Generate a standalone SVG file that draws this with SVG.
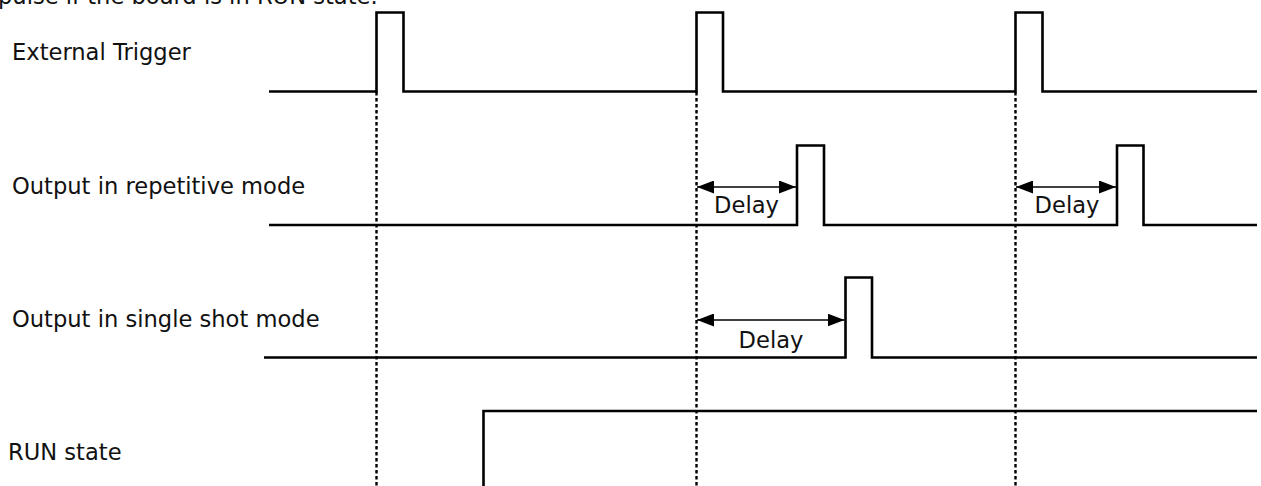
<svg xmlns="http://www.w3.org/2000/svg" width="1261" height="486" viewBox="0 0 1261 486">
<style>
text{font-family:"DejaVu Sans","Verdana",sans-serif;font-size:22.6px;fill:#111}
.sig{fill:none;stroke:#000;stroke-width:2.6;stroke-linejoin:miter}
.dot{fill:none;stroke:#000;stroke-width:2.4;stroke-dasharray:3.5 2.5}
.arr{stroke:#000;stroke-width:1.5;marker-start:url(#ah);marker-end:url(#ah)}
</style>
<defs>
<marker id="ah" viewBox="0 0 17 13" refX="17" refY="6.5" markerWidth="17" markerHeight="13" markerUnits="userSpaceOnUse" orient="auto-start-reverse">
<path d="M0,0 L17,6.5 L0,13 Z" fill="#000"/>
</marker>
</defs>
<text x="-2" y="4">pulse if the board is in RUN state.</text>
<g id="ext-trigger">
<text x="12" y="60">External Trigger</text>
<path class="sig" d="M269,91.5 H376.5 V12.5 H403.5 V91.5 H696.5 V12.5 H723 V91.5 H1015.5 V12.5 H1042.5 V91.5 H1257"/>
</g>
<g id="repetitive">
<text x="12" y="194">Output in repetitive mode</text>
<path class="sig" d="M269,225 H797 V145.5 H824 V225 H1117 V145.5 H1143.5 V225 H1257"/>
<text x="746.5" y="213" text-anchor="middle">Delay</text>
<text x="1067" y="213" text-anchor="middle">Delay</text>
</g>
<g id="single-shot">
<text x="12" y="327">Output in single shot mode</text>
<path class="sig" d="M264,357.5 H845.5 V277.5 H872 V357.5 H1257"/>
<text x="771" y="348" text-anchor="middle">Delay</text>
</g>
<g id="run-state">
<text x="8" y="460">RUN state</text>
<path class="sig" d="M483.5,486 V411 H1257"/>
</g>
<g id="connectors">
<line class="dot" x1="376.5" y1="92" x2="376.5" y2="486"/>
<line class="dot" x1="696.5" y1="92" x2="696.5" y2="486"/>
<line class="dot" x1="1015.5" y1="92" x2="1015.5" y2="486"/>
<line class="arr" x1="697" y1="187" x2="796" y2="187"/>
<line class="arr" x1="1016" y1="187" x2="1116" y2="187"/>
<line class="arr" x1="697" y1="320" x2="844.5" y2="320"/>
</g>
</svg>
